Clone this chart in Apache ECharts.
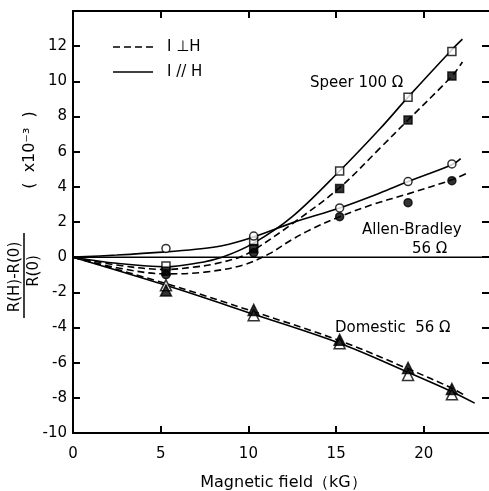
<!DOCTYPE html>
<html>
<head>
<meta charset="utf-8">
<script src="https://cdn.jsdelivr.net/npm/echarts@6/dist/echarts.min.js"></script>
<style>
  html, body { margin: 0; padding: 0; background: #fff; }
  #chart { width: 489px; height: 491px; }
</style>
</head>
<body>
<div id="chart"></div>
<script>
// x positions of the measured points (kG)
const fieldPts = [5.3, 10.3, 15.2, 19.1, 21.6];

// measured points, x 10^-3
const speerPar = [-0.5, 0.9, 4.9, 9.1, 11.7];
const speerPerp = [-0.8, 0.5, 3.9, 7.8, 10.3];
const abPar = [0.5, 1.2, 2.8, 4.3, 5.3];
const abPerp = [-1.0, 0.25, 2.3, 3.1, 4.35];
const domPar = [-1.6, -3.3, -4.9, -6.7, -7.8];
const domPerp = [-1.9, -3.0, -4.7, -6.3, -7.5];

// hand drawn curves: [field, value]
const speerParCurve = [[0, 0], [2.5, -0.35], [5.3, -0.55], [7, -0.35], [8.5, 0], [10.3, 0.8], [12.5, 2.3], [15.2, 4.9], [17.5, 7.3], [19.1, 9.1], [21.6, 11.8], [22.2, 12.4]];
const speerPerpCurve = [[0, 0], [2.5, -0.45], [5.3, -0.7], [7, -0.55], [8, -0.4], [9.5, 0], [10.3, 0.4], [12.5, 1.9], [15.2, 3.95], [17.5, 6.2], [19.1, 7.8], [21.6, 10.3], [22.2, 11.1]];
const abParCurve = [[0, 0], [2.5, 0.12], [5.3, 0.3], [7, 0.45], [8.5, 0.65], [10.3, 1.15], [12.5, 1.95], [15.2, 2.8], [17.5, 3.65], [19.1, 4.3], [21.6, 5.25], [22.1, 5.6]];
const abPerpCurve = [[0, 0], [2.5, -0.6], [5.3, -0.95], [7.5, -0.85], [9.7, -0.45], [11.2, 0.2], [12.4, 0.95], [13.5, 1.55], [15.2, 2.3], [17.1, 3.0], [19.1, 3.6], [21.6, 4.4], [22.4, 4.75]];
const domParCurve = [[0, 0], [5.3, -1.6], [10.3, -3.25], [15.2, -4.9], [19.1, -6.55], [21.6, -7.65], [22.9, -8.3]];
const domPerpCurve = [[0, 0], [5.3, -1.5], [10.3, -3.1], [15.2, -4.75], [19.1, -6.35], [21.6, -7.45], [22.4, -7.9]];
const zeroLine = [[0, 0], [24, 0]];

// axis ticks
const xTicks = [0, 5, 10, 15, 20];
const yTicks = [-10, -8, -6, -4, -2, 0, 2, 4, 6, 8, 10, 12];

const FONT = 'DejaVu Sans';
const dashed = [7, 4];

const pts = ys => fieldPts.map((x, i) => [x, ys[i]]);

const curve = (data, dash) => ({
  type: 'line',
  data: data,
  smooth: 0.35,
  showSymbol: false,
  silent: true,
  lineStyle: { color: '#000', width: 1.6, type: dash ? dashed : 'solid' },
  z: 2
});

const marks = (data, symbol, filled, size) => ({
  type: 'scatter',
  data: pts(data),
  symbol: symbol,
  symbolSize: size,
  itemStyle: {
    color: filled ? '#000' : '#fff',
    borderColor: '#000',
    borderWidth: 1.5
  },
  z: 4
});

const axisBase = {
  axisLine: { show: true, onZero: false, lineStyle: { color: '#000', width: 2 } },
  axisTick: { show: true, inside: true, length: 7, lineStyle: { color: '#000', width: 2 } },
  splitLine: { show: false }
};

const txt = (x, y, text, size, rot) => ({
  type: 'text', x: x, y: y, rotation: rot || 0,
  style: { text: text, font: size + 'px ' + FONT, fill: '#000', align: rot ? 'center' : 'left', verticalAlign: 'middle' }
});

const option = {
  animation: false,
  backgroundColor: '#fff',
  grid: { left: 73, right: -5, top: 11, bottom: 58, outerBoundsMode: 'none', containLabel: false },
  xAxis: [
    Object.assign({}, axisBase, {
      type: 'value', min: 0, max: 24, interval: 5, position: 'bottom',
      axisLabel: {
        margin: 14, fontSize: 15, fontFamily: FONT, color: '#000',
        formatter: v => (xTicks.includes(v) ? String(v) : '')
      },
      name: 'Magnetic field（kG）',
      nameLocation: 'middle',
      nameGap: 42,
      nameTextStyle: { fontSize: 16, fontFamily: FONT, color: '#000' }
    }),
    Object.assign({}, axisBase, {
      type: 'value', min: 0, max: 24, interval: 5, position: 'top',
      axisLabel: { show: false }
    })
  ],
  yAxis: [
    Object.assign({}, axisBase, {
      type: 'value', min: -10, max: 14, interval: 2, position: 'left',
      axisLabel: {
        margin: 6, fontSize: 15, fontFamily: FONT, color: '#000',
        formatter: v => (yTicks.includes(v) ? String(v) : '')
      }
    }),
    Object.assign({}, axisBase, {
      type: 'value', min: -10, max: 14, interval: 2, position: 'right',
      axisTick: { show: true, inside: true, length: 12, lineStyle: { color: '#000', width: 2 } },
      axisLabel: { show: false }
    })
  ],
  graphic: [
    // legend
    { type: 'line', shape: { x1: 113, y1: 47, x2: 153, y2: 47 }, style: { stroke: '#000', lineWidth: 1.6, lineDash: dashed } },
    txt(167, 47, 'I ⊥H', 15),
    { type: 'line', shape: { x1: 113, y1: 72, x2: 153, y2: 72 }, style: { stroke: '#000', lineWidth: 1.6 } },
    txt(167, 72, 'I // H', 15),
    // y axis title
    txt(30, 150, '(  x10⁻³  )', 16, Math.PI / 2),
    txt(15, 277, 'R(H)-R(0)', 15, Math.PI / 2),
    { type: 'line', shape: { x1: 24, y1: 233, x2: 24, y2: 318 }, style: { stroke: '#000', lineWidth: 1.5 } },
    txt(34, 271, 'R(0)', 15, Math.PI / 2),
    // curve labels
    txt(310, 83, 'Speer 100 Ω', 15),
    txt(362, 230, 'Allen-Bradley', 15),
    txt(412, 249, '56 Ω', 15),
    txt(335, 328, 'Domestic  56 Ω', 15)
  ],
  series: [
    // zero line
    { type: 'line', data: zeroLine, showSymbol: false, silent: true, lineStyle: { color: '#000', width: 1.5 }, z: 1 },
    // curves
    curve(speerParCurve, false),
    curve(speerPerpCurve, true),
    curve(abParCurve, false),
    curve(abPerpCurve, true),
    curve(domParCurve, false),
    curve(domPerpCurve, true),
    // measured points
    marks(speerPar, 'rect', false, 8),
    marks(speerPerp, 'rect', true, 8),
    marks(abPar, 'circle', false, 8),
    marks(abPerp, 'circle', true, 8),
    marks(domPar, 'triangle', false, 11),
    marks(domPerp, 'triangle', true, 11)
  ]
};

const myChart = echarts.init(document.getElementById('chart'));
myChart.setOption(option);
</script>
</body>
</html>
